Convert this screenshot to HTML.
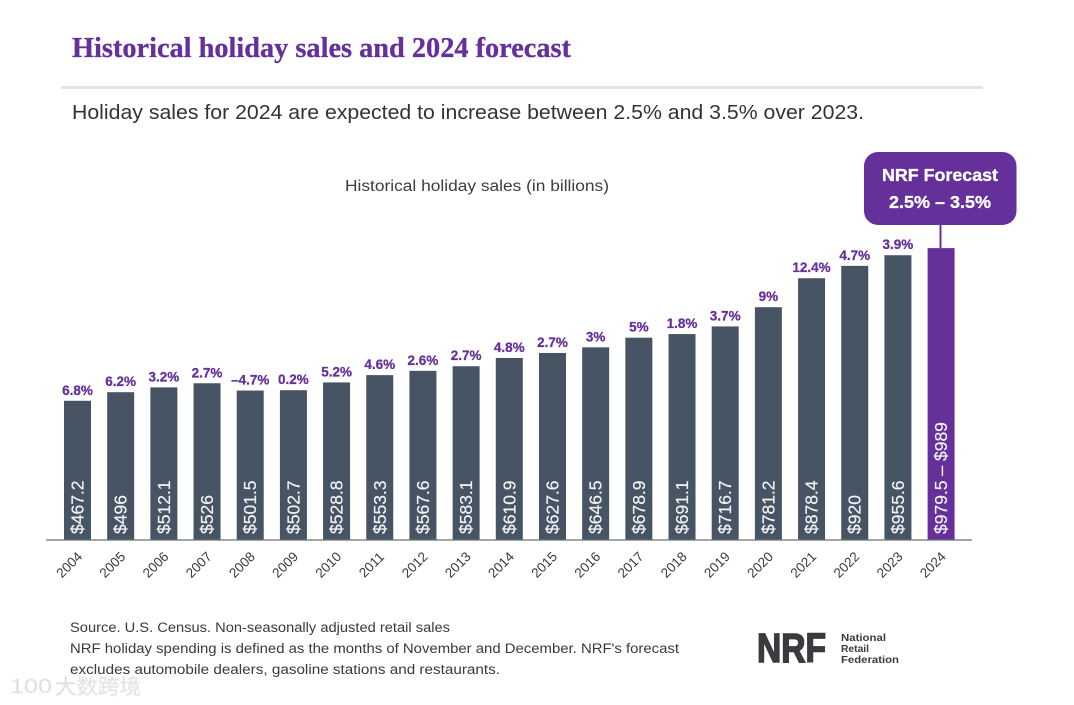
<!DOCTYPE html>
<html lang="en">
<head>
<meta charset="utf-8">
<title>Historical holiday sales and 2024 forecast</title>
<style>
html,body{margin:0;padding:0;background:#fff;width:1074px;height:705px;overflow:hidden}
svg{display:block;font-family:"Liberation Sans","Noto Sans CJK SC",sans-serif}
</style>
</head>
<body>
<svg id="chart" width="1074" height="705" viewBox="0 0 1074 705" xmlns="http://www.w3.org/2000/svg">
  <text x="72" y="57" font-family="'Liberation Serif',serif" font-weight="700" font-size="28" fill="#65309a" stroke="#65309a" stroke-width="0.3" textLength="499" lengthAdjust="spacingAndGlyphs">Historical holiday sales and 2024 forecast</text>
  <rect x="61" y="86" width="922" height="3" fill="#e4e4e4"/>
  <text x="72" y="119" font-size="20.5" fill="#333" textLength="792" lengthAdjust="spacingAndGlyphs">Holiday sales for 2024 are expected to increase between 2.5% and 3.5% over 2023.</text>
  <text x="345" y="191" font-size="15.5" fill="#3d3d3d" textLength="264" lengthAdjust="spacingAndGlyphs">Historical holiday sales (in billions)</text>

  <g id="bars"></g>
  <g id="growth"></g>
  <g id="values"></g>
  <g id="xticks"></g>
  <line x1="46" y1="540" x2="972" y2="540" stroke="#6d7278" stroke-width="1.2"/>

  <line x1="940.5" y1="224" x2="940.5" y2="248" stroke="#65309a" stroke-width="2"/>
  <rect x="864" y="152" width="152.5" height="73" rx="14" fill="#65309a"/>
  <text x="882" y="181" font-size="17.5" font-weight="700" fill="#fff" stroke="#fff" stroke-width="0.3" textLength="116" lengthAdjust="spacingAndGlyphs">NRF Forecast</text>
  <text x="889" y="208" font-size="17.5" font-weight="700" fill="#fff" stroke="#fff" stroke-width="0.3" textLength="102" lengthAdjust="spacingAndGlyphs">2.5% – 3.5%</text>

  <text x="70" y="632" font-size="13.5" fill="#3a3a3a" textLength="380" lengthAdjust="spacingAndGlyphs">Source. U.S. Census. Non-seasonally adjusted retail sales</text>
  <text x="70" y="653" font-size="13.5" fill="#3a3a3a" textLength="609" lengthAdjust="spacingAndGlyphs">NRF holiday spending is defined as the months of November and December. NRF's forecast</text>
  <text x="70" y="674" font-size="13.5" fill="#3a3a3a" textLength="430" lengthAdjust="spacingAndGlyphs">excludes automobile dealers, gasoline stations and restaurants.</text>

  <g>
    <text x="757" y="662" font-size="41" font-weight="700" fill="#3a3a3f" stroke="#3a3a3f" stroke-width="1.6" textLength="69" lengthAdjust="spacingAndGlyphs">NRF</text>
    <text x="841" y="641" font-size="10.5" font-weight="700" fill="#3a3a3f" textLength="45" lengthAdjust="spacingAndGlyphs">National</text>
    <text x="841" y="652" font-size="10.5" font-weight="700" fill="#3a3a3f" textLength="28" lengthAdjust="spacingAndGlyphs">Retail</text>
    <text x="841" y="663" font-size="10.5" font-weight="700" fill="#3a3a3f" textLength="58" lengthAdjust="spacingAndGlyphs">Federation</text>
  </g>

  <g fill="#d9d9d9" stroke="#efefef" stroke-width="0.8">
    <text x="10" y="693" font-size="20" textLength="42" lengthAdjust="spacingAndGlyphs">100</text>
    <text x="55" y="694" font-size="21" textLength="86" lengthAdjust="spacingAndGlyphs">大数跨境</text>
  </g>
</svg>
<script>
const years = ['2004','2005','2006','2007','2008','2009','2010','2011','2012','2013','2014','2015','2016','2017','2018','2019','2020','2021','2022','2023','2024'];
const sales = [467.2,496,512.1,526,501.5,502.7,528.8,553.3,567.6,583.1,610.9,627.6,646.5,678.9,691.1,716.7,781.2,878.4,920,955.6,979.5];
const valueLabels = ['$467.2','$496','$512.1','$526','$501.5','$502.7','$528.8','$553.3','$567.6','$583.1','$610.9','$627.6','$646.5','$678.9','$691.1','$716.7','$781.2','$878.4','$920','$955.6','$979.5 – $989'];
const growthLabels = ['6.8%','6.2%','3.2%','2.7%','–4.7%','0.2%','5.2%','4.6%','2.6%','2.7%','4.8%','2.7%','3%','5%','1.8%','3.7%','9%','12.4%','4.7%','3.9%',''];

const NS = 'http://www.w3.org/2000/svg';
const baseY = 540;
const pxPerBillion = 0.298;
const barW = 27;
const xScale = function (i) { return 64 + i * 43.18; };
const yScale = function (v) { return baseY - v * pxPerBillion; };

const barsG = document.getElementById('bars');
const growthG = document.getElementById('growth');
const valuesG = document.getElementById('values');
const xticksG = document.getElementById('xticks');

years.forEach(function (year, i) {
  const x = xScale(i);
  const top = yScale(sales[i]);
  const cx = x + barW / 2;

  const bar = document.createElementNS(NS, 'rect');
  
  
  bar.setAttribute('x', x);
  bar.setAttribute('y', top);
  bar.setAttribute('width', barW);
  bar.setAttribute('height', baseY - top);
  bar.setAttribute('fill', i === years.length - 1 ? '#65309a' : '#475464');
  barsG.appendChild(bar);

  if (growthLabels[i]) {
    const g = document.createElementNS(NS, 'text');
    
    
    g.setAttribute('x', cx);
    g.setAttribute('y', top - 6);
    g.setAttribute('text-anchor', 'middle');
    g.setAttribute('font-size', '13.5');
    g.setAttribute('font-weight', '700');
    g.setAttribute('fill', '#65309a');
    g.setAttribute('stroke', '#65309a');
    g.setAttribute('stroke-width', '0.25');
    g.textContent = growthLabels[i];
    growthG.appendChild(g);
  }

  const v = document.createElementNS(NS, 'text');
  
  
  v.setAttribute('transform', 'translate(' + (cx + 6) + ',534) rotate(-90)');
  v.setAttribute('font-size', '17.5');
  v.setAttribute('fill', '#f2f3f5');
  v.setAttribute('stroke', '#f2f3f5');
  v.setAttribute('stroke-width', '0.2');
  v.textContent = valueLabels[i];
  valuesG.appendChild(v);

  const t = document.createElementNS(NS, 'text');
  
  
  t.setAttribute('transform', 'translate(' + (cx - 5) + ',568) rotate(-45)');
  t.setAttribute('text-anchor', 'middle');
  t.setAttribute('font-size', '13.5');
  t.setAttribute('fill', '#3a3a3a');
  t.textContent = year;
  xticksG.appendChild(t);
});
</script>
</body>
</html>
